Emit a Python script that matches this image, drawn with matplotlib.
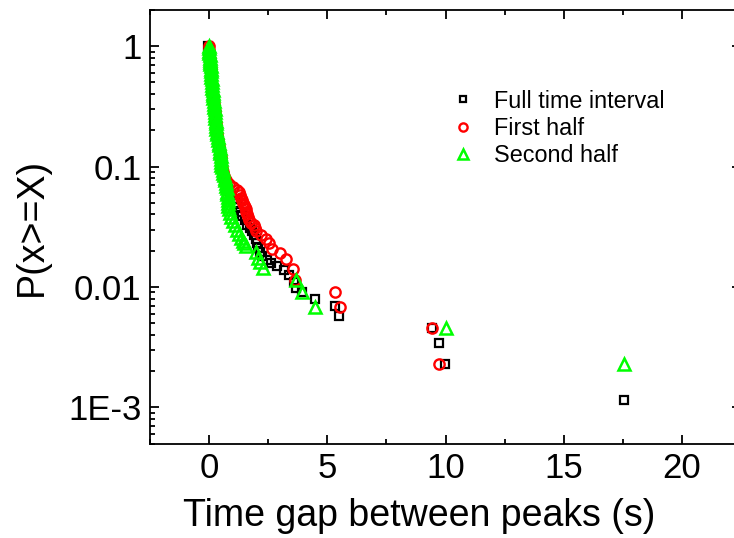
import matplotlib
matplotlib.use("Agg")
import matplotlib.pyplot as plt
from matplotlib.ticker import FixedLocator, MultipleLocator, LogLocator, NullFormatter, FixedFormatter

plt.rcParams['font.family'] = ['Liberation Sans', 'DejaVu Sans']

# Complementary cumulative distribution P(x>=X) of the time gaps between peaks
full_x = [-0.03, -0.02, -0.01, 0.01, 0.03, 0.05, 0.07, 0.09, 0.11, 0.13, 0.16, 0.19,
          0.22, 0.25, 0.27, 0.30, 0.33, 0.37, 0.41, 0.44, 0.48, 0.51, 0.54, 0.59,
          0.65, 0.72, 0.80, 0.90, 1.00, 1.10, 1.20, 1.30, 1.40, 1.50, 1.62, 1.75,
          1.82, 1.90, 1.97, 2.02, 2.07, 2.15, 2.25, 2.45, 2.60, 2.89, 3.17, 3.40,
          3.60, 3.66, 3.94, 4.49, 5.32, 5.49, 9.44, 9.72, 9.97, 17.56]
full_p = [1.00, 0.93, 0.86, 0.79, 0.72, 0.65, 0.58, 0.52, 0.46, 0.41, 0.37, 0.33,
          0.29, 0.26, 0.23, 0.205, 0.185, 0.165, 0.148, 0.133, 0.12, 0.108, 0.098, 0.088,
          0.080, 0.072, 0.065, 0.059, 0.054, 0.050, 0.046, 0.042, 0.039, 0.036, 0.033, 0.031,
          0.029, 0.027, 0.025, 0.023, 0.021, 0.0195, 0.018, 0.0168, 0.0158, 0.0150, 0.0139, 0.0125,
          0.0110, 0.0098, 0.0091, 0.0080, 0.0069, 0.0057, 0.0046, 0.0034, 0.0023, 0.00114]

first_x = [-0.02, -0.01, 0.00, 0.02, 0.04, 0.06, 0.08, 0.10, 0.12, 0.14, 0.17, 0.20,
           0.23, 0.26, 0.28, 0.31, 0.34, 0.38, 0.42, 0.45, 0.49, 0.52, 0.56, 0.60,
           0.64, 0.70, 0.85, 1.02, 1.20, 1.25, 1.30, 1.35, 1.40, 1.44, 1.48, 1.52,
           1.55, 1.57, 1.60, 1.64, 1.70, 1.78, 1.91, 1.94, 1.97, 2.20, 2.42, 2.54,
           2.68, 3.00, 3.24, 3.55, 3.62, 5.32, 5.52, 9.44, 9.72]
first_p = [1.00, 0.93, 0.86, 0.79, 0.72, 0.65, 0.58, 0.52, 0.46, 0.41, 0.37, 0.33,
           0.29, 0.26, 0.23, 0.205, 0.185, 0.165, 0.148, 0.133, 0.12, 0.108, 0.098, 0.090,
           0.083, 0.077, 0.072, 0.068, 0.064, 0.061, 0.058, 0.055, 0.053, 0.050, 0.048, 0.046,
           0.044, 0.042, 0.040, 0.038, 0.036, 0.034, 0.0327, 0.031, 0.029, 0.027, 0.025, 0.023,
           0.0206, 0.0190, 0.0170, 0.0140, 0.0114, 0.0091, 0.0068, 0.0046, 0.0023]

second_x = [0.00, 0.00, 0.01, 0.01, 0.02, 0.03, 0.03, 0.04, 0.05, 0.06, 0.07, 0.08,
            0.09, 0.10, 0.11, 0.12, 0.13, 0.14, 0.15, 0.16, 0.17, 0.18, 0.19, 0.21,
            0.22, 0.23, 0.24, 0.26, 0.27, 0.28, 0.29, 0.30, 0.31, 0.33, 0.35, 0.37,
            0.39, 0.41, 0.42, 0.44, 0.45, 0.47, 0.49, 0.50, 0.51, 0.52, 0.54, 0.57,
            0.60, 0.63, 0.66, 0.69, 0.71, 0.73, 0.74, 0.76, 0.77, 0.78, 0.79, 0.80,
            0.82, 0.85, 0.88, 0.93, 1.00, 1.08, 1.17, 1.25, 1.34, 1.42, 1.49, 1.55,
            2.00, 2.08, 2.16, 2.26, 3.66, 3.94, 4.48, 10.0, 17.56]
second_p = [1.00, 0.96, 0.92, 0.88, 0.84, 0.80, 0.77, 0.74, 0.71, 0.68, 0.65, 0.62,
            0.59, 0.56, 0.53, 0.50, 0.475, 0.45, 0.43, 0.41, 0.39, 0.37, 0.35, 0.33,
            0.315, 0.30, 0.285, 0.27, 0.255, 0.24, 0.228, 0.216, 0.205, 0.195, 0.185, 0.175,
            0.166, 0.158, 0.150, 0.143, 0.136, 0.129, 0.122, 0.116, 0.110, 0.104, 0.099, 0.094,
            0.089, 0.085, 0.081, 0.077, 0.073, 0.069, 0.066, 0.062, 0.059, 0.056, 0.053, 0.050,
            0.047, 0.044, 0.041, 0.038, 0.035, 0.0325, 0.030, 0.0275, 0.0256, 0.0240, 0.0232, 0.0217,
            0.0195, 0.0174, 0.0160, 0.0144, 0.0114, 0.0091, 0.0068, 0.0046, 0.0023]

series_labels = ["Full time interval", "First half", "Second half"]

x_ticks = [0, 5, 10, 15, 20]
y_ticks = [1e-3, 1e-2, 1e-1, 1]
y_tick_labels = ["1E-3", "0.01", "0.1", "1"]

fig = plt.figure(figsize=(7.34, 5.38), dpi=100)
ax = fig.add_axes([150 / 734, 1 - 443.5 / 538, (741 - 150) / 734, (443.5 - 10) / 538])

lw = 1.3
ax.plot(full_x, full_p, ls='none', marker='s', ms=6.2, mfc='none', mec='black', mew=1.6,
        label=series_labels[0])
ax.plot(first_x, first_p, ls='none', marker='o', ms=7.4, mfc='none', mec='#ff0000', mew=1.7,
        label=series_labels[1])
ax.plot(second_x, second_p, ls='none', marker='^', ms=8.6, mfc='none', mec='#00ff00', mew=1.8,
        label=series_labels[2])

ax.set_yscale('log')
ax.set_xlim(-2.5, 22.5)
ax.set_ylim(5e-4, 2)

ax.xaxis.set_major_locator(FixedLocator(x_ticks))
ax.xaxis.set_minor_locator(MultipleLocator(2.5))
ax.yaxis.set_major_locator(FixedLocator(y_ticks))
ax.yaxis.set_major_formatter(FixedFormatter(y_tick_labels))
ax.yaxis.set_minor_locator(LogLocator(base=10, subs=range(2, 10)))
ax.yaxis.set_minor_formatter(NullFormatter())

ax.tick_params(which='both', direction='in', top=True, right=True, width=lw,
               labelsize=25, color='black')
ax.tick_params(which='major', length=6.7)
ax.tick_params(which='minor', length=3.6)
ax.tick_params(axis='y', pad=6)
ax.tick_params(axis='x', pad=6)
for sp in ax.spines.values():
    sp.set_linewidth(lw)

ax.set_xlabel("Time gap between peaks (s)", fontsize=27)
ax.set_ylabel("P(x>=X)", fontsize=27)
ax.xaxis.set_label_coords(0.455, -0.125)
ax.yaxis.set_label_coords(-0.17, 0.5)

leg = ax.legend(loc='upper left', bbox_to_anchor=(453 / 734, 1 - 89.5 / 538),
                bbox_transform=fig.transFigure, frameon=False, fontsize=16.8,
                numpoints=1, markerscale=0.8, handlelength=0.9, handletextpad=0.85,
                labelspacing=0.18, borderpad=0, borderaxespad=0)

fig.savefig("out.png", dpi=100)
